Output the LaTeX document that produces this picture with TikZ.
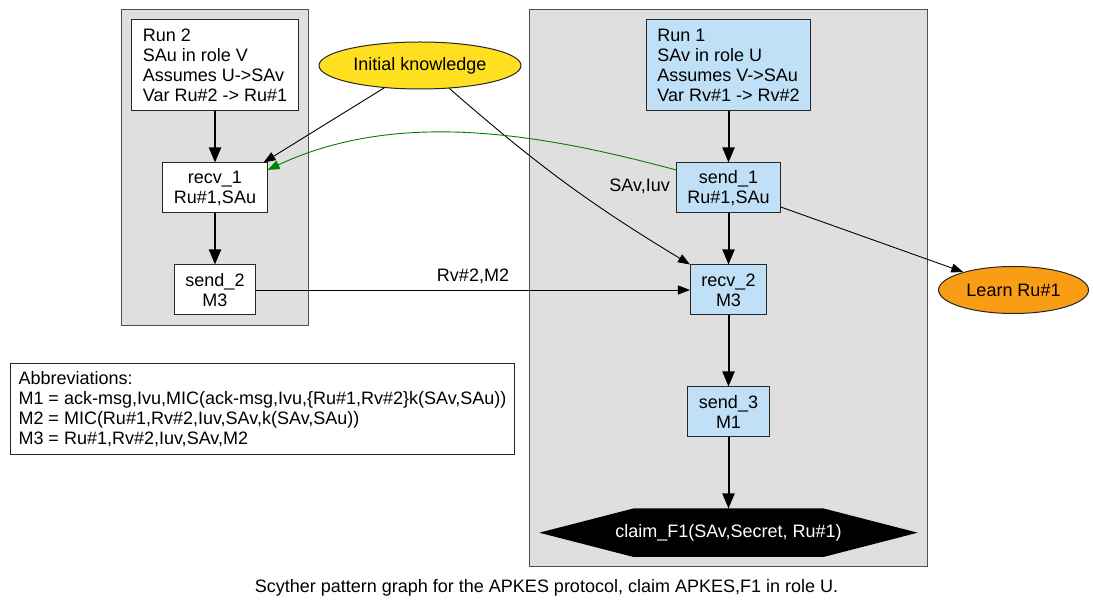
\documentclass[tikz,border=0pt]{standalone}
\usepackage{fontspec}
\setmainfont{Liberation Sans}
\usepackage{xcolor}
\usepackage{tikz}
\usetikzlibrary{arrows.meta,shapes.geometric,positioning,fit,backgrounds}
\definecolor{fundo}{HTML}{DFDFDF}
\definecolor{bordo}{HTML}{4F4F4F}
\definecolor{azul}{HTML}{BFE0F6}
\definecolor{ouro}{HTML}{FFE020}
\definecolor{laranja}{HTML}{F99E14}
\definecolor{verde}{HTML}{008000}
\definecolor{traco}{HTML}{262626}
\tikzset{
  texto/.style={font=\fontsize{18}{20}\selectfont},
  caixa/.style={texto, rectangle, draw=traco, line width=1pt, fill=white, align=center,
    inner xsep=11pt, inner ysep=0pt, minimum height=50pt},
  evento/.style={caixa, fill=azul},
  corrida/.style={align=left, minimum height=91pt},
  elipse/.style={texto, ellipse, draw=traco, line width=1pt, minimum height=47pt, inner sep=0pt},
  rotulo/.style={texto, inner sep=0pt},
  grupo/.style={rectangle, draw=bordo, fill=fundo, line width=1pt, inner sep=10pt},
  seta/.style={-{Triangle[length=12pt,width=9pt]}, line width=0.9pt},
  grossa/.style={-{Triangle[length=15pt,width=12pt]}, line width=2pt},
}
\newcommand{\evt}[2]{#1\\#2}

\begin{document}
\begin{tikzpicture}[x=1pt, y=1pt]
    \useasboundingbox (0,0) rectangle (1093,605);
    % run 2
    \node[caixa, corrida] (run2) at (215,539.5) {Run 2\\SAu in role V\\Assumes U->SAv\\Var Ru\#2 -> Ru\#1};
    \node[caixa, below=51pt of run2] (recv1) {\evt{recv\_1}{Ru\#1,SAu}};
    \node[caixa, below=51pt of recv1] (send2) {\evt{send\_2}{M3}};
    \node[elipse, fill=ouro, minimum width=202pt] (ik) at (420,539.5) {Initial knowledge};
    % run 1
    \node[evento, corrida] (run1) at (728.5,539.5) {Run 1\\SAv in role U\\Assumes V->SAu\\Var Rv\#1 -> Rv\#2};
    \node[evento, below=51pt of run1] (send1) {\evt{send\_1}{Ru\#1,SAu}};
    \node[evento, below=51pt of send1] (recv2) {\evt{recv\_2}{M3}};
    \node[evento, below=71pt of recv2] (send3) {\evt{send\_3}{M1}};
    \node[rotulo, text=white, minimum width=378pt, minimum height=48pt, below=71pt of send3] (claim) {claim\_F1(SAv,Secret, Ru\#1)};
    \node[elipse, fill=laranja, minimum width=150pt, right=171pt of recv2] (learn) {Learn Ru\#1};
    \node[caixa, corrida, inner xsep=8pt] (abrev) at (262.5,195.5) {Abbreviations:\\M1 = ack-msg,Ivu,MIC(ack-msg,Ivu,\{Ru\#1,Rv\#2\}k(SAv,SAu))\\M2 = MIC(Ru\#1,Rv\#2,Iuv,SAv,k(SAv,SAu))\\M3 = Ru\#1,Rv\#2,Iuv,SAv,M2};
    \node[rotulo] (legenda) at (546.5,17) {Scyther pattern graph for the APKES protocol, claim APKES,F1 in role U.};
    \begin{scope}[on background layer]
      \fill[white] (0,0) rectangle (1093,605);
      \node[grupo, fit=(run2) (recv1) (send2)] (grupo2) {};
      \node[grupo, fit=(run1) (send1) (recv2) (send3) (claim)] (grupo1) {};
      \fill[black] (claim.west) -- ([xshift=94pt]claim.north west) -- ([xshift=-94pt]claim.north east)
        -- (claim.east) -- ([xshift=-94pt]claim.south east) -- ([xshift=94pt]claim.south west) -- cycle;
    \end{scope}
    \draw[grossa] (run2) -- (recv1);
    \draw[grossa] (recv1) -- (send2);
    \draw[grossa] (run1) -- (send1);
    \draw[grossa] (send1) -- (recv2);
    \draw[grossa] (recv2) -- (send3);
    \draw[grossa] (send3) -- (claim);
    \draw[seta] (ik.212) -- ([xshift=-4pt]recv1.north east);
    \draw[seta] (ik.322) to[bend right=5] (recv2.north west);
    \node[rotulo, left=6pt of send1, yshift=2pt] (rot1) {SAv,Iuv};
    \draw[seta, color=verde] (send1.161) to[out=165, in=25, looseness=0.9] (recv1.19);
    \draw[seta] (send1.-20) -- (learn);
    \draw[seta] (send2) -- node[rotulo, above=6pt] (rot2) {Rv\#2,M2} (recv2);
\end{tikzpicture}
\end{document}
